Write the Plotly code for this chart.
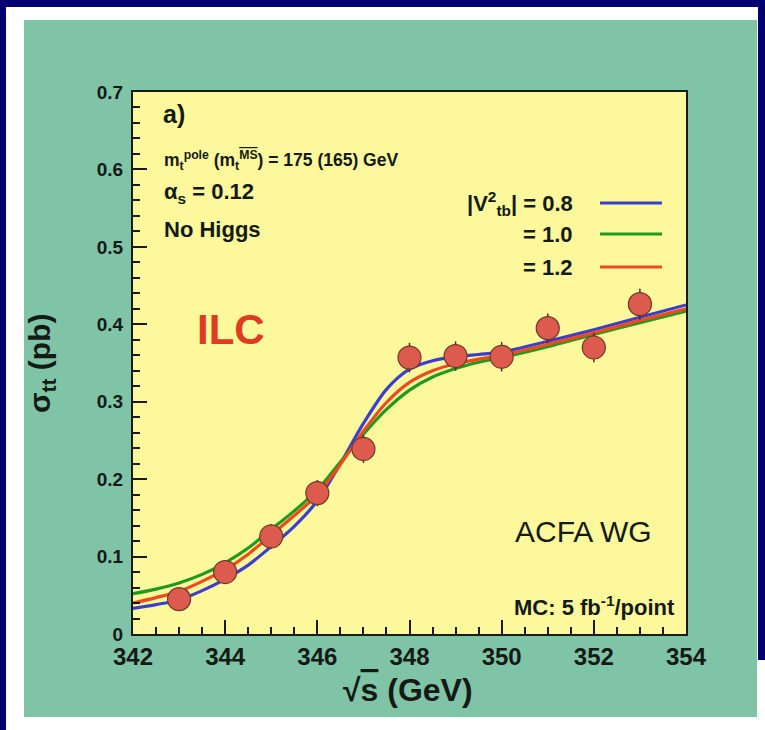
import plotly.graph_objects as go

# ---------------- data ----------------
sqrt_s_points = [343, 344, 345, 346, 347, 348, 349, 350, 351, 352, 353]
sigma_points = [0.045, 0.080, 0.126, 0.182, 0.239, 0.357, 0.359, 0.358, 0.395, 0.370, 0.426]
sigma_errors = [0.012, 0.014, 0.016, 0.017, 0.018, 0.019, 0.019, 0.019, 0.019, 0.019, 0.020]

curve_x = [342, 342.5, 343, 343.5, 344, 344.5, 345, 345.5, 346, 346.5, 347, 347.5,
           348, 348.5, 349, 349.5, 350, 351, 352, 353, 354]
curve_blue = [0.033, 0.038, 0.044, 0.056, 0.071, 0.089, 0.113, 0.139, 0.172, 0.220, 0.272, 0.316,
              0.342, 0.353, 0.358, 0.361, 0.364, 0.378, 0.393, 0.409, 0.425]
curve_green = [0.052, 0.058, 0.066, 0.077, 0.092, 0.111, 0.135, 0.159, 0.186, 0.222, 0.258, 0.290,
               0.315, 0.332, 0.343, 0.351, 0.357, 0.371, 0.387, 0.402, 0.417]
curve_red = [0.040, 0.047, 0.055, 0.068, 0.083, 0.103, 0.128, 0.153, 0.180, 0.219, 0.262, 0.299,
             0.325, 0.340, 0.349, 0.355, 0.360, 0.374, 0.389, 0.405, 0.420]

legend_labels = ["|V<sup>2</sup><sub>tb</sub>| = 0.8", "= 1.0", "= 1.2"]
curve_colors = ["#3a3fd0", "#1f9a1f", "#ee4a1e"]

# ---------------- geometry helpers (pixels -> paper) ----------------
FW, FH = 765, 730
L, R, T, B = 133, 686, 92, 634
PW, PH = R - L, B - T


def px(x):
    return (x - L) / PW


def py(y):
    return (B - y) / PH


FONT = "Liberation Sans, Arial, sans-serif"
TXT = "#141a14"

fig = go.Figure()

for ys, col in zip([curve_blue, curve_green, curve_red], curve_colors):
    fig.add_trace(go.Scatter(x=curve_x, y=ys, mode="lines",
                             line=dict(color=col, width=3.2, shape="spline", smoothing=0.8),
                             showlegend=False, hoverinfo="skip"))

fig.add_trace(go.Scatter(
    x=sqrt_s_points, y=sigma_points, mode="markers",
    error_y=dict(type="data", array=sigma_errors, color="#4a2a1a", thickness=1.5, width=0),
    marker=dict(size=23, color="#dc5a4e", line=dict(color="#6e3a28", width=1.2)),
    showlegend=False, hoverinfo="skip"))

shapes = [
    # navy frame
    dict(type="rect", xref="paper", yref="paper", x0=px(0), x1=px(FW), y0=py(0), y1=py(7),
         fillcolor="#000070", line=dict(width=0), layer="below"),
    dict(type="rect", xref="paper", yref="paper", x0=px(0), x1=px(6), y0=py(0), y1=py(FH),
         fillcolor="#000070", line=dict(width=0), layer="below"),
    dict(type="rect", xref="paper", yref="paper", x0=px(758), x1=px(FW), y0=py(0), y1=py(660),
         fillcolor="#000070", line=dict(width=0), layer="below"),
    # teal panel
    dict(type="rect", xref="paper", yref="paper", x0=px(24), x1=px(757), y0=py(20), y1=py(717),
         fillcolor="#80c4a8", line=dict(width=0), layer="below"),
    # yellow plot area
    dict(type="rect", xref="paper", yref="paper", x0=0, x1=1, y0=0, y1=1,
         fillcolor="#fdf89c", line=dict(width=0), layer="below"),
]

# legend sample lines
leg_y = [203, 234, 267]
for yy, col in zip(leg_y, curve_colors):
    shapes.append(dict(type="line", xref="paper", yref="paper", x0=px(600), x1=px(662),
                       y0=py(yy), y1=py(yy), line=dict(color=col, width=3.2)))

annotations = []


def ann(text, x, y, size, xanchor="left", yanchor="middle", color=TXT, angle=0):
    annotations.append(dict(text=text, x=px(x), y=py(y), xref="paper", yref="paper",
                            xanchor=xanchor, yanchor=yanchor, showarrow=False,
                            textangle=angle, font=dict(family=FONT, size=size, color=color)))


ann("<b>a)</b>", 161, 114, 25)
ann("<b>m<sub>t</sub><sup>pole</sup> (m<sub>t</sub><sup><span style='text-decoration:overline'>MS</span></sup>) = 175 (165) GeV</b>",
    162, 160, 17.5)
ann("<b>α<sub>s</sub> = 0.12</b>", 162, 193, 22)
ann("<b>No Higgs</b>", 162, 229, 22)
for lab, yy in zip(legend_labels, leg_y):
    ann("<b>" + lab + "</b>", 575, yy, 22, xanchor="right")
ann("<b>ILC</b>", 231, 329, 42, xanchor="center", color="#e03a22")
ann("ACFA WG", 583, 531, 30, xanchor="center")
ann("<b>MC: 5 fb<sup>-1</sup>/point</b>", 677, 606, 22, xanchor="right")
# axis titles
ann("<b>√<span style='text-decoration:overline'>s</span> (GeV)</b>", 408, 690, 32, xanchor="center")
ann("<b>σ<sub>tt</sub> (pb)</b>", 41, 363, 30, xanchor="center", angle=-90)

fig.update_layout(
    width=FW, height=FH,
    margin=dict(l=L, r=FW - R, t=T, b=FH - B),
    paper_bgcolor="white", plot_bgcolor="#fdf89c",
    shapes=shapes, annotations=annotations,
    xaxis=dict(range=[342, 354], tickmode="linear", tick0=342, dtick=2,
               ticks="inside", ticklen=14, tickwidth=2, tickcolor="#1a1a1a",
               minor=dict(dtick=0.5, ticks="inside", ticklen=7, tickwidth=1.5, tickcolor="#1a1a1a"),
               showgrid=False, zeroline=False, showline=True, linecolor="#1a1a1a", linewidth=2,
               mirror=True,
               tickfont=dict(family=FONT, size=24, color=TXT, weight="bold")),
    yaxis=dict(range=[0, 0.7], tickmode="linear", tick0=0, dtick=0.1,
               ticks="inside", ticklen=14, tickwidth=2, tickcolor="#1a1a1a",
               minor=dict(dtick=0.02, ticks="inside", ticklen=7, tickwidth=1.5, tickcolor="#1a1a1a"),
               showgrid=False, zeroline=False, showline=True, linecolor="#1a1a1a", linewidth=2,
               mirror=True, ticklabelstandoff=4,
               tickfont=dict(family=FONT, size=19, color=TXT, weight="bold")),
)

fig.write_html("out.html")
